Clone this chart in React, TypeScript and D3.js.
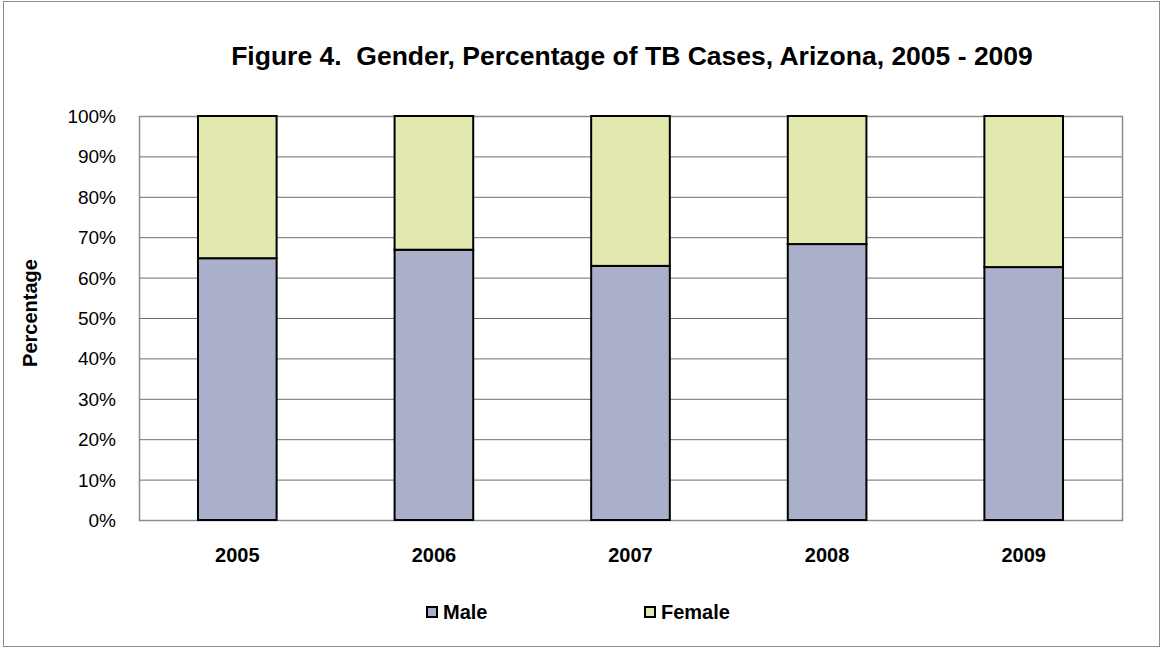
import React, { useEffect, useRef } from 'react';
import * as d3 from 'd3';

const years = ['2005', '2006', '2007', '2008', '2009'];
const malePct = [64.8, 66.9, 62.9, 68.3, 62.6];
const femalePct = malePct.map(m => 100 - m);
const yTicks = [0, 10, 20, 30, 40, 50, 60, 70, 80, 90, 100];

const series = [
  { name: 'Male', values: malePct, color: '#aab0c9' },
  { name: 'Female', values: femalePct, color: '#e3e8ae' }
];

const App = () => {
  const svgRef = useRef<SVGSVGElement | null>(null);

  useEffect(() => {
    if (!svgRef.current) return;
    const svg = d3.select(svgRef.current);
    svg.selectAll('*').remove();
    const font = '"Liberation Sans", Arial, sans-serif';

    // outer frame
    svg.append('rect')
      .attr('x', 3.5).attr('y', 1.5)
      .attr('width', 1156).attr('height', 645)
      .attr('fill', 'white')
      .attr('stroke', '#8c8c8c').attr('stroke-width', 1);

    const left = 139, right = 1122, top = 116, bottom = 520;

    const x = d3.scaleBand().domain(years).range([left, right]).paddingInner(0.6).paddingOuter(0.3);
    const y = d3.scaleLinear().domain([0, 100]).range([bottom, top]);

    // gridlines
    svg.append('g').selectAll('line')
      .data(yTicks.slice(1))
      .enter().append('line')
      .attr('x1', left).attr('x2', right)
      .attr('y1', d => y(d) + 0.5).attr('y2', d => y(d) + 0.5)
      .attr('stroke', '#6e6e6e').attr('stroke-width', 1);

    // plot border
    svg.append('rect')
      .attr('x', left + 0.5).attr('y', top + 0.5)
      .attr('width', right - left).attr('height', bottom - top)
      .attr('fill', 'none').attr('stroke', '#8c8c8c').attr('stroke-width', 1.5);

    // stacked bars
    const stacked = years.map((yr, i) => {
      let acc = 0;
      return series.map(s => {
        const y0 = acc;
        acc += s.values[i];
        return { yr, y0, y1: acc, color: s.color };
      });
    }).flat();

    svg.append('g').selectAll('rect')
      .data(stacked)
      .enter().append('rect')
      .attr('x', d => x(d.yr)!)
      .attr('width', x.bandwidth())
      .attr('y', d => y(d.y1))
      .attr('height', d => y(d.y0) - y(d.y1))
      .attr('fill', d => d.color)
      .attr('stroke', '#000').attr('stroke-width', 2);

    // y ticks
    svg.append('g').selectAll('text')
      .data(yTicks)
      .enter().append('text')
      .attr('x', 116).attr('y', d => y(d) + 7)
      .attr('text-anchor', 'end')
      .attr('font-family', font).attr('font-size', 19)
      .text(d => `${d}%`);

    // x labels
    svg.append('g').selectAll('text')
      .data(years)
      .enter().append('text')
      .attr('x', d => x(d)! + x.bandwidth() / 2).attr('y', 562)
      .attr('text-anchor', 'middle')
      .attr('font-family', font).attr('font-size', 20).attr('font-weight', 'bold')
      .text(d => d);

    // y title
    svg.append('text')
      .attr('transform', `translate(37, ${313}) rotate(-90)`)
      .attr('text-anchor', 'middle')
      .attr('font-family', font).attr('font-size', 20).attr('font-weight', 'bold')
      .text('Percentage');

    // title
    svg.append('text')
      .attr('x', 632).attr('y', 65)
      .attr('text-anchor', 'middle')
      .attr('font-family', font).attr('font-size', 26.5).attr('font-weight', 'bold')
      .style('white-space', 'pre')
      .text('Figure 4.  Gender, Percentage of TB Cases, Arizona, 2005 - 2009');

    // legend
    const legendX = [426, 644];
    const lg = svg.append('g').selectAll('g')
      .data(series)
      .enter().append('g')
      .attr('transform', (d, i) => `translate(${legendX[i]}, 606)`);
    lg.append('rect')
      .attr('x', 1).attr('y', 1).attr('width', 10).attr('height', 10)
      .attr('fill', d => d.color)
      .attr('stroke', '#000').attr('stroke-width', 2);
    lg.append('text')
      .attr('x', 17).attr('y', 13)
      .attr('font-family', font).attr('font-size', 20).attr('font-weight', 'bold')
      .text(d => d.name);
  }, []);

  return (
    <svg ref={svgRef} width={1162} height={650} style={{ position: 'absolute', left: 0, top: 0 }} />
  );
};

export default App;
